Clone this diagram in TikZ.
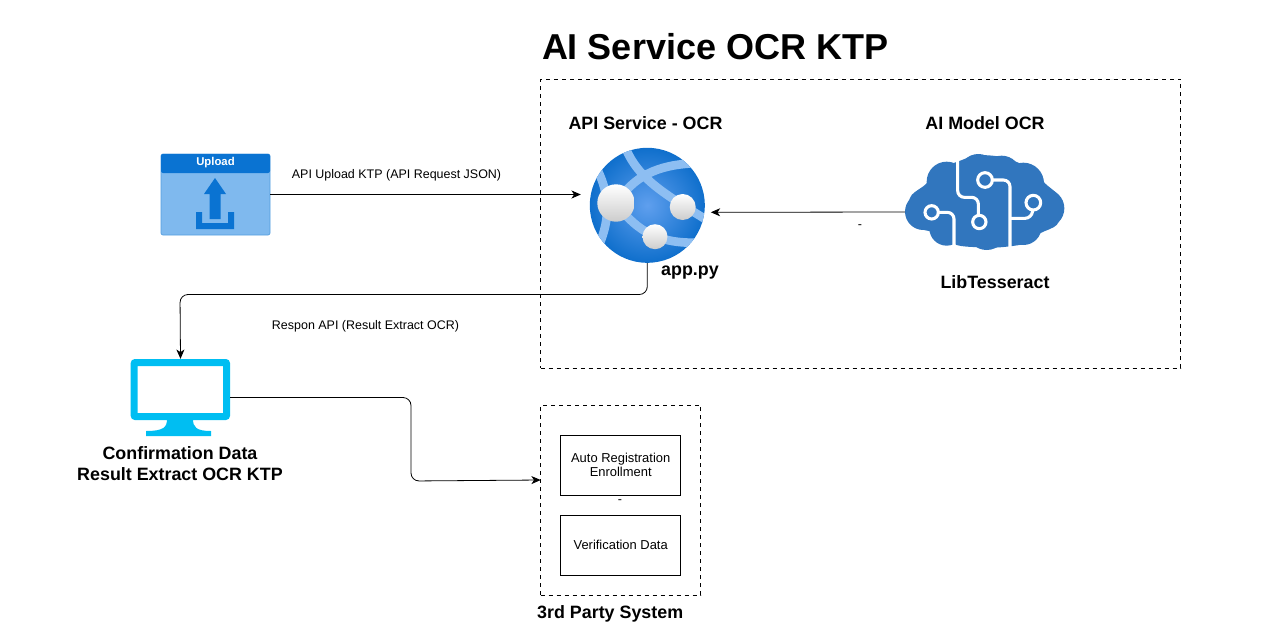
\documentclass[tikz,border=0pt]{standalone}
\usepackage{fontspec}
\setmainfont{Liberation Sans}
\usetikzlibrary{positioning,arrows.meta}
\definecolor{uploadblue}{HTML}{0A73D2}
\definecolor{uploadlight}{HTML}{7FB9EE}
\definecolor{cloudblue}{HTML}{3176BE}
\definecolor{screenblue}{HTML}{00BEF2}
\definecolor{bandblue}{HTML}{8DBEF2}
\definecolor{globeinner}{HTML}{5F9FEE}
\definecolor{globeouter}{HTML}{0F6FCC}
\tikzset{
  icon/.style={inner sep=0pt,outer sep=0pt},
  title/.style={font=\bfseries\fontsize{13.4pt}{15.75pt}\selectfont,align=center},
  small/.style={font=\fontsize{9.35pt}{10pt}\selectfont,align=center},
  frame/.style={draw,dashed,inner sep=0pt,outer sep=0pt},
  itembox/.style={draw,inner sep=0pt,minimum width=90pt,minimum height=45pt,align=center,font=\fontsize{9.7pt}{10.5pt}\selectfont},
  conn/.style={-{Stealth[length=7pt,width=6pt,inset=2pt]},rounded corners=6pt,line width=0.6pt}
}
\begin{document}
\begin{tikzpicture}[x=0.75pt,y=-0.75pt]
    \useasboundingbox (0,0) rectangle (1271,625);

    %Frames
    \node[frame,minimum width=480pt,minimum height=216.75pt] (ocrframe) at (860.7,223.5) {};
    \node[frame,minimum width=120pt,minimum height=142.5pt] (partyframe) at (620.7,500) {};
    \node[icon,font=\bfseries\fontsize{27pt}{30pt}\selectfont,anchor=west] (mainlabel) at (542,47) {AI Service OCR KTP};

    %Upload
    \node[icon,minimum width=81.75pt,minimum height=60.75pt] (upload) at (215.5,194.5) {};
    \fill[uploadlight,draw=uploadblue!70,line width=0.5pt,rounded corners=1.5pt] (161,154) rectangle (270,235);
    \fill[uploadblue,rounded corners=1.5pt] (161,154) -- (270,154) -- (270,173) -- (161,173) -- cycle;
    \fill[uploadblue] (215,178) -- (226,194) -- (220.5,194) -- (220.5,219) -- (209.5,219) -- (209.5,194) -- (204,194) -- cycle;
    \fill[uploadblue] (196,212) -- (202,212) -- (202,223) -- (228,223) -- (228,212) -- (234,212) -- (234,229) -- (196,229) -- cycle;
    \node[icon,text=white,font=\bfseries\fontsize{8.5pt}{10pt}\selectfont] (uploadlabel) at (215.5,162.5) {Upload};

    %App service
    \node[icon,circle,minimum size=86.25pt] (app) at (647.3,205.3) {};
    \begin{scope}
      \clip (647.3,205.3) circle (57.5);
      \shade[inner color=globeinner,outer color=globeouter] (647.3,205.3) circle (57.5);
      \begin{scope}[shift={(570,140)},x=0.25pt,y=-0.25pt,draw=bandblue,line width=6.5pt]
        \draw (165,20) .. controls (205,120) and (290,165) .. (410,240);
        \draw (139,190) .. controls (190,110) and (260,75) .. (370,70);
        \draw (85,95) .. controls (115,160) and (125,230) .. (85,320);
        \draw (139,190) .. controls (190,260) and (250,310) .. (375,308);
      \end{scope}
    \end{scope}
    \shade[top color=white,bottom color=black!20] (616,203) circle (18.7);
    \shade[top color=white,bottom color=black!20] (682.7,207) circle (13);
    \shade[top color=white,bottom color=black!20] (655,236.7) circle (12.5);
    \node[title] (applabel) at (645.5,123.5) {API Service - OCR};
    \node[title] (appname) at (690,273) {app.py};

    %Cloud
    \node[icon,minimum width=119.25pt,minimum height=72pt] (cloud) at (984.5,202) {};
    \begin{scope}[shift={(890,140)},x=0.25pt,y=-0.25pt]
      \fill[cloudblue] plot[smooth cycle,tension=0.5] coordinates {(50,210) (65,165) (108,132) (135,90) (200,66) (260,46)
        (330,50) (385,68) (435,92) (465,130) (505,165) (518,205) (500,255) (450,280) (410,310) (330,322) (270,322)
        (200,315) (150,282) (85,265) (55,240)};
      \foreach \cx/\cy/\cr in {100/215/55,170/125/60,265/100/58,335/105/58,400/130/62,465/205/58,400/260/55,290/270/60,170/265/52}
        \fill[cloudblue] (\cx,\cy) circle (\cr);
      \begin{scope}[draw=white,line width=2.3pt,rounded corners=5pt]
        \draw (203,55) -- (203,172) -- (265,172) -- (265,225);
        \draw (146,217) -- (192,217) -- (192,325);
        \draw (307,120) -- (360,120) -- (360,335);
        \draw (360,235) -- (425,235) -- (428,210);
        \draw[fill=cloudblue] (125,217) circle (20);
        \draw[fill=cloudblue] (268,246) circle (20);
        \draw[fill=cloudblue] (285,120) circle (22);
        \draw[fill=cloudblue] (430,188) circle (22);
      \end{scope}
    \end{scope}
    \node[title] (cloudlabel) at (985,123.5) {AI Model OCR};
    \node[title] (cloudname) at (995,282) {LibTesseract};

    %Monitor
    \node[icon,minimum width=74.5pt,minimum height=58pt] (screen) at (180.5,397.5) {};
    \fill[screenblue,rounded corners=3pt,even odd rule] (130.7,359) rectangle (230,420) (137.7,366) [sharp corners] rectangle (223,413);
    \fill[screenblue] (167,419) -- (193,419) .. controls (193,427) and (196,431) .. (211,431) -- (211,436) -- (146,436) -- (146,431) .. controls (164,431) and (167,427) .. (167,419) -- cycle;
    \node[title] (screenlabel) at (180,464) {Confirmation Data\\Result Extract OCR KTP};

    %3rd party
    \node[itembox] (autobox) at (620.7,465) {Auto Registration\\Enrollment};
    \node[itembox] (verifybox) at (620.7,545) {Verification Data};
    \node[small] (dashbox) at (620,502) {-};
    \node[title,anchor=west] (partylabel) at (532.5,614) {3rd Party System};

    %Connectors
    \draw[conn,shorten >=6.75pt] (upload.east) -- (upload.east -| app.west);
    \draw[conn] ([yshift=-7.5pt]cloud.west) -- ([xshift=4.5pt,yshift=-5.25pt]app.east);
    \draw[conn] (app.south) |- (180,294.5) -- (screen.north);
    \draw[conn] (screen.east) -| (411,481) -- (partyframe.west |- 411,480);

    \node[small] (uploadtext) at (396.5,175) {API Upload KTP (API Request JSON)};
    \node[small] (cloudtext) at (860,227) {-};
    \node[small] (respontext) at (365.5,326) {Respon API (Result Extract OCR)};
\end{tikzpicture}
\end{document}
